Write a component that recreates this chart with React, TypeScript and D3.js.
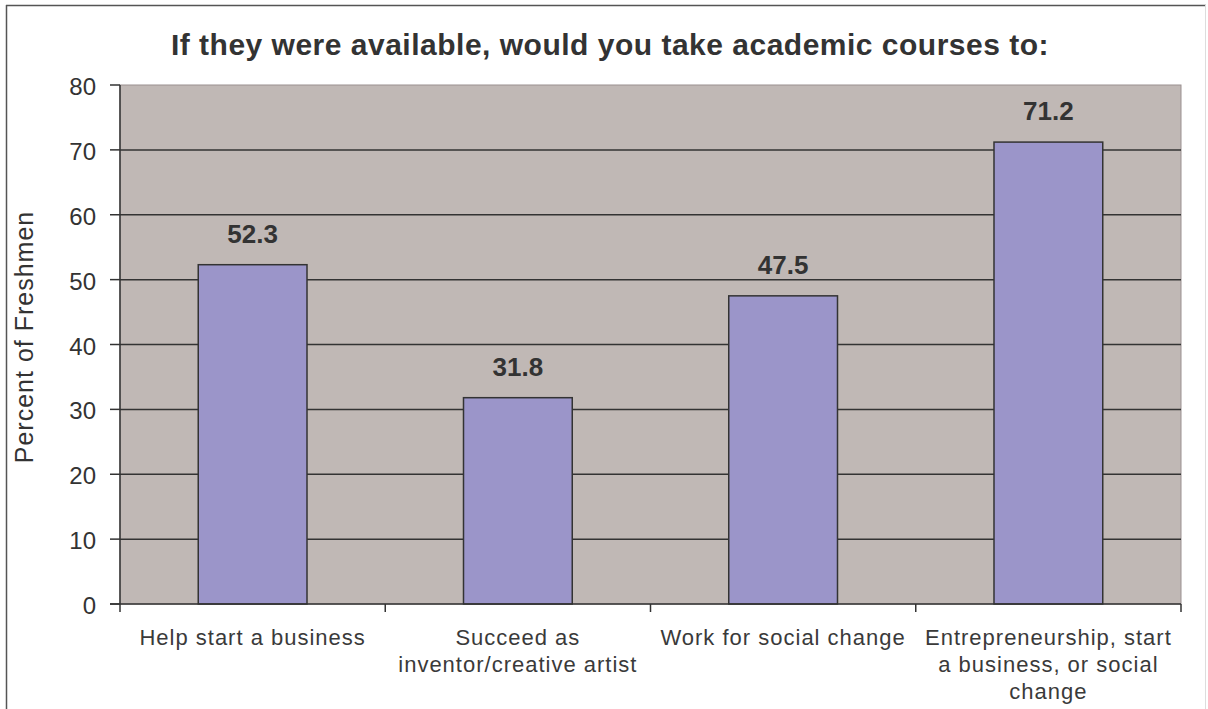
import React from "react";
import * as d3 from "d3";

const categories: string[][] = [
  ["Help start a business"],
  ["Succeed as", "inventor/creative artist"],
  ["Work for social change"],
  ["Entrepreneurship, start", "a business, or social", "change"],
];
const values: number[] = [52.3, 31.8, 47.5, 71.2];
const yTicks: number[] = [0, 10, 20, 30, 40, 50, 60, 70, 80];
const title = "If they were available, would you take academic courses to:";
const yTitle = "Percent of Freshmen";

export default function App() {
  const W = 1208, H = 709;
  const left = 120, right = 1181, top = 85, bottom = 604;
  const x = d3.scaleBand<number>().domain(d3.range(values.length)).range([left, right]).paddingInner(0).paddingOuter(0);
  const y = d3.scaleLinear().domain([0, 80]).range([bottom, top]);
  const bw = x.bandwidth() * 0.41;
  const font = "'Liberation Sans', Arial, Helvetica, sans-serif";
  return (
    <svg width={W} height={H} style={{ position: "absolute", left: 0, top: 0 }} fontFamily={font}>
      <rect x={0} y={0} width={W} height={H} fill="#fff" />
      <line x1={6.5} x2={6.5} y1={5} y2={H} stroke="#555" strokeWidth={1.5} />
      <line x1={6} x2={1206} y1={5.5} y2={5.5} stroke="#555" strokeWidth={1.5} />
      <line x1={1205.5} x2={1205.5} y1={5} y2={H} stroke="#ddd" strokeWidth={1} />
      <text x={610} y={55} textAnchor="middle" fontSize={30} fontWeight="bold" fill="#333" letterSpacing={0.5}>{title}</text>
      <rect x={left} y={top} width={right - left} height={bottom - top} fill="#C0B8B5" stroke="#9a9090" strokeWidth={1} />
      {yTicks.filter(t => t > 0 && t < 80).map(t => (
        <line key={t} x1={left} x2={right} y1={y(t)} y2={y(t)} stroke="#333" strokeWidth={1.5} />
      ))}
      {values.map((v, i) => {
        const cx = x(i)! + x.bandwidth() / 2;
        return (
          <g key={i}>
            <rect x={cx - bw / 2} y={y(v)} width={bw} height={bottom - y(v)} fill="#9B95C9" stroke="#333" strokeWidth={1.5} />
            <text x={cx} y={y(v) - 22} textAnchor="middle" fontSize={26} fontWeight="bold" fill="#333">{v.toFixed(1)}</text>
          </g>
        );
      })}
      <line x1={left} x2={left} y1={top} y2={bottom} stroke="#333" strokeWidth={1.5} />
      <line x1={110} x2={right} y1={bottom} y2={bottom} stroke="#333" strokeWidth={1.5} />
      {yTicks.map(t => (
        <g key={t}>
          <line x1={110} x2={left} y1={y(t)} y2={y(t)} stroke="#333" strokeWidth={1.5} />
          <text x={96} y={y(t) + 10} textAnchor="end" fontSize={24} fill="#333">{t}</text>
        </g>
      ))}
      {d3.range(values.length + 1).map(i => {
        const xx = i < values.length ? x(i)! : right;
        return <line key={i} x1={xx} x2={xx} y1={bottom} y2={bottom + 8} stroke="#333" strokeWidth={1.5} />;
      })}
      {categories.map((lines, i) => {
        const cx = x(i)! + x.bandwidth() / 2;
        return (
          <text key={i} textAnchor="middle" fontSize={22} fill="#3a3a3a" letterSpacing={1}>
            {lines.map((l, j) => (
              <tspan key={j} x={cx} y={645 + j * 27}>{l}</tspan>
            ))}
          </text>
        );
      })}
      <text transform={`translate(33,337) rotate(-90)`} textAnchor="middle" fontSize={25} fill="#333" letterSpacing={1}>{yTitle}</text>
    </svg>
  );
}
